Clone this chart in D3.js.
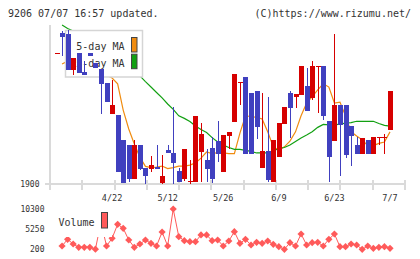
<!DOCTYPE html>
<html>
<head>
<meta charset="utf-8">
<script src="https://cdn.jsdelivr.net/npm/d3@7"></script>
<style>
  body { margin: 0; background: #fff; }
  svg { display: block; }
  text { font-family: 'DejaVu Sans Mono', monospace; fill: #333; }
</style>
</head>
<body>
<div id="chart"></div>
<script>
// trading days shown (2022)
const dates = ['4/8', '4/11', '4/12', '4/13', '4/14', '4/15', '4/18', '4/19', '4/20', '4/21', '4/22',
  '4/25', '4/26', '4/27', '4/28', '5/2', '5/6', '5/9', '5/10', '5/11', '5/12',
  '5/13', '5/16', '5/17', '5/18', '5/19', '5/20', '5/23', '5/24', '5/25', '5/26',
  '5/27', '5/30', '5/31', '6/1', '6/2', '6/3', '6/6', '6/7', '6/8', '6/9',
  '6/10', '6/13', '6/14', '6/15', '6/16', '6/17', '6/20', '6/21', '6/22', '6/23',
  '6/24', '6/27', '6/28', '6/29', '6/30', '7/1', '7/4', '7/5', '7/6', '7/7']
const dateLabels = ['4/22', '5/12', '5/26', '6/9', '6/23', '7/7']

const open = [2309, 2372, 2369, 2256, 2309, 2250, 2309, 2278, 2259, 2216, 2119,
  2116, 2038, 2022, 1916, 2022, 1950, 1947, 1953, 1903, 2006,
  1997, 1941, 1916, 1909, 1906, 2000, 1975, 2013, 2034, 1938,
  2050, 2094, 2219, 2234, 2184, 2191, 1950, 2003, 1906, 1984,
  2088, 2184, 2172, 2178, 2206, 2169, 2269, 2269, 2097, 2034,
  2147, 2147, 2081, 2022, 1994, 2038, 1994, 2047, 2047, 2069]
const close = [2309, 2359, 2256, 2294, 2247, 2241, 2300, 2263, 2213, 2156, 2147,
  1938, 1903, 1916, 2022, 1947, 1925, 1959, 1947, 1925, 1997,
  1966, 1906, 2009, 1909, 2112, 2056, 1947, 1916, 1994, 2053,
  2063, 2244, 2219, 1994, 1994, 2078, 2003, 1913, 2038, 2091,
  2141, 2137, 2181, 2269, 2128, 2269, 2269, 2113, 1984, 2147,
  2084, 1991, 2050, 1994, 2044, 1994, 2047, 2047, 2047, 2191]
const high = [2309, 2378, 2381, 2294, 2309, 2284, 2309, 2278, 2259, 2216, 2225,
  2116, 2038, 2022, 2038, 2022, 1950, 1987, 2022, 1991, 2022,
  2141, 1950, 2009, 1975, 2112, 2091, 2009, 2047, 2097, 2053,
  2063, 2244, 2219, 2234, 2184, 2191, 2184, 2172, 2038, 2091,
  2141, 2191, 2181, 2269, 2263, 2284, 2269, 2269, 2097, 2369,
  2147, 2147, 2081, 2047, 2044, 2038, 2047, 2047, 2056, 2191]
const low = [2309, 2300, 2256, 2241, 2247, 2241, 2300, 2263, 2119, 2156, 2119,
  1938, 1903, 1906, 1916, 1944, 1900, 1938, 1947, 1900, 1997,
  1900, 1906, 1909, 1900, 1906, 1906, 1906, 1903, 1969, 1938,
  2009, 2094, 2147, 1994, 1994, 2041, 1950, 1906, 1906, 1984,
  2088, 2044, 2137, 2178, 2128, 2163, 2122, 2100, 1906, 2034,
  1925, 1981, 1956, 1994, 1994, 1994, 1994, 2022, 1994, 2069]

const ma5 = [null, 2275, 2284, 2288, 2294, 2278, 2269, 2269, 2253, 2241, 2231,
  2213, 2131, 2072, 2025, 1984, 1955, 1951, 1953, 1956, 1948,
  1951, 1956, 1956, 1959, 1966, 1981, 2000, 1995, 1998, 1997,
  1995, 1995, 2059, 2113, 2111, 2108, 2103, 2063, 2016, 2006,
  2016, 2034, 2063, 2113, 2153, 2173, 2194, 2213, 2203, 2153,
  2156, 2113, 2063, 2050, 2038, 2020, 2020, 2027, 2031, 2063]
const ma25 = [null, 2397, 2386, 2378, 2372, 2363, 2353, 2344, 2334, 2322, 2309,
  2297, 2284, 2269, 2255, 2238, 2220, 2203, 2186, 2169, 2150,
  2133, 2113, 2105, 2095, 2081, 2070, 2061, 2045, 2031, 2022,
  2014, 2008, 2008, 2005, 2002, 1997, 1997, 1997, 2003, 2011,
  2014, 2022, 2033, 2044, 2053, 2063, 2077, 2086, 2085, 2085,
  2087, 2090, 2092, 2096, 2096, 2096, 2096, 2089, 2083, 2081]

const volume = [null, 960, 2650, 1460, 630, 630, 630, 150, 7000, 960, 2900,
  6440, 5430, 2470, 630, 1460, 2470, 1640, 960, 4490, 960,
  10300, 3310, 2300, 2040, 2040, 3740, 3740, 2300, 2470, 960,
  2220, 4570, 1640, 2650, 1210, 1890, 1640, 2220, 1390, 780,
  120, 1790, 960, 3990, 1210, 1790, 1890, 960, 2650, 3990,
  780, 780, 1460, 1210, 120, 960, 380, 630, 780, 380]

const priceTicks = [1900]
const volumeTicks = [200, 5250, 10300]

const red = '#d60000'
const blue = '#4040bf'
const orange = '#f08c10'
const green = '#12a012'
const pink = '#ff5a5a'
const grid = '#dadada'

const svg = d3.select('#chart')
  .append('svg')
  .attr('width', 420)
  .attr('height', 259)

const x = d3.scalePoint().domain(dates).range([56.5, 390])
const y = d3.scaleLinear().domain([1900, 2400]).range([184, 24])
const yVol = d3.scaleLinear().domain([200, 10300]).range([249, 209])
// frame ticks along the bottom, evenly spaced
const frame = d3.scaleLinear().domain([0, 11]).range([50, 405])

// header
svg.append('text')
  .attr('x', 8).attr('y', 16.5)
  .style('font-size', '10px')
  .text('9206 07/07 16:57 updated.')
svg.append('text')
  .attr('x', 411).attr('y', 16.5)
  .attr('text-anchor', 'end')
  .style('font-size', '10px')
  .text('(C)https://www.rizumu.net/')

// axes frame
svg.append('line')
  .attr('x1', 50).attr('x2', 50).attr('y1', 25).attr('y2', 190)
  .attr('stroke', grid).attr('stroke-width', 2)
svg.append('line')
  .attr('x1', 45).attr('x2', 405).attr('y1', y(1900)).attr('y2', y(1900))
  .attr('stroke', grid).attr('stroke-width', 2)
svg.append('g')
  .selectAll('line')
  .data(d3.range(1, 12))
  .join('line')
  .attr('x1', d => Math.round(frame(d))).attr('x2', d => Math.round(frame(d)))
  .attr('y1', 180).attr('y2', 190)
  .attr('stroke', grid).attr('stroke-width', 2)

svg.append('g')
  .selectAll('text')
  .data(priceTicks)
  .join('text')
  .attr('x', 39.5).attr('y', d => y(d) + 3)
  .attr('text-anchor', 'end')
  .style('font-size', '8px')
  .text(d => d)

svg.append('g')
  .selectAll('text')
  .data(dateLabels)
  .join('text')
  .attr('x', d => x(d)).attr('y', 201)
  .attr('text-anchor', 'middle')
  .style('font-size', '8.5px')
  .text(d => d)

// moving averages
const maLine = d3.line()
  .defined(d => d != null)
  .x((d, i) => x(dates[i]))
  .y(d => y(d))
svg.append('path').datum(ma5)
  .attr('d', maLine).attr('fill', 'none').attr('stroke', orange).attr('stroke-width', 1.2)
svg.append('path').datum(ma25)
  .attr('d', maLine).attr('fill', 'none').attr('stroke', green).attr('stroke-width', 1.2)

// legend (sits above the lines, below the candles)
const legend = svg.append('g')
legend.append('rect')
  .attr('x', 65.5).attr('y', 30.5).attr('width', 77).attr('height', 46.5)
  .attr('fill', '#fff').attr('stroke', '#d5d5d5').attr('stroke-width', 1.5)
const legendItems = [{ label: '5-day MA', color: orange }, { label: '25-day MA', color: green }]
legendItems.forEach((d, i) => {
  legend.append('text')
    .attr('x', 124.5).attr('y', 50 + i * 17)
    .attr('text-anchor', 'end')
    .style('font-size', '10px')
    .text(d.label)
  legend.append('rect')
    .attr('x', 131.5).attr('y', 37.5 + i * 16.7).attr('width', 5.5).attr('height', 14.5)
    .attr('fill', d.color).attr('stroke', '#444').attr('stroke-width', 1)
})

// candles
const candles = svg.append('g').attr('shape-rendering', 'crispEdges')
dates.forEach((d, i) => {
  const cx = Math.round(x(d))
  const o = open[i]
  const c = close[i]
  const col = c >= o ? red : blue
  const top = y(Math.max(o, c))
  const bot = y(Math.min(o, c))
  candles.append('line')
    .attr('x1', cx + 0.5).attr('x2', cx + 0.5)
    .attr('y1', y(Math.max(high[i], o, c))).attr('y2', y(Math.min(low[i], o, c)))
    .attr('stroke', col).attr('stroke-width', 1)
  candles.append('rect')
    .attr('x', cx - 2).attr('width', 5)
    .attr('y', top).attr('height', Math.max(1, bot - top))
    .attr('fill', col)
})

// volume
svg.append('g')
  .selectAll('text')
  .data(volumeTicks)
  .join('text')
  .attr('x', 44.5).attr('y', d => yVol(d) + 3)
  .attr('text-anchor', 'end')
  .style('font-size', '8px')
  .text(d => d)

const volLine = d3.line()
  .defined(d => d != null)
  .x((d, i) => x(dates[i]))
  .y(d => yVol(d))
svg.append('path').datum(volume)
  .attr('d', volLine).attr('fill', 'none').attr('stroke', pink).attr('stroke-width', 1)

const diamond = d3.symbol().type(d3.symbolSquare).size(26)
svg.append('g')
  .selectAll('path')
  .data(volume.map((v, i) => ({ v, d: dates[i] })).filter(p => p.v != null))
  .join('path')
  .attr('d', diamond)
  .attr('transform', p => `translate(${x(p.d)},${yVol(p.v)}) rotate(45)`)
  .attr('fill', pink)

const volLegend = svg.append('g')
volLegend.append('rect')
  .attr('x', 52).attr('y', 207).attr('width', 60).attr('height', 30)
  .attr('fill', '#fff')
volLegend.append('text')
  .attr('x', 94.5).attr('y', 226)
  .attr('text-anchor', 'end')
  .style('font-size', '10px')
  .text('Volume')
volLegend.append('rect')
  .attr('x', 101.5).attr('y', 212.5).attr('width', 6).attr('height', 15.5)
  .attr('fill', pink).attr('stroke', '#444').attr('stroke-width', 1)
</script>
</body>
</html>
